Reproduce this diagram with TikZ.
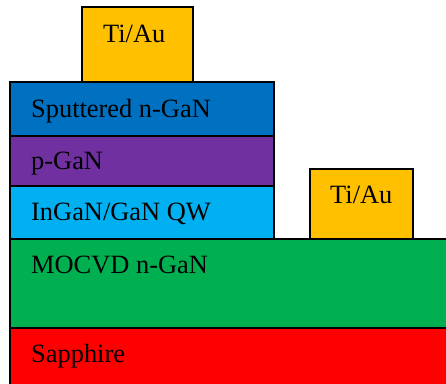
\documentclass[tikz,border=0pt]{standalone}
\usepackage{fontspec}
\setmainfont{Liberation Serif}
\definecolor{auY}{HTML}{FFC000}
\definecolor{sputB}{HTML}{0070C0}
\definecolor{pgan}{HTML}{7030A0}
\definecolor{qw}{HTML}{00B0F0}
\definecolor{mocvd}{HTML}{00B050}
\definecolor{sapph}{HTML}{FF0000}
\tikzset{
  layer/.style={draw=black, line width=1.4pt},
  lbl/.style={anchor=base west, inner sep=0pt, font=\fontsize{26.4}{30}\selectfont},
}
\begin{document}
\begin{tikzpicture}[x=1pt,y=-1pt]
\clip (0,0) rectangle (446,383);
\fill[white] (0,0) rectangle (446,383);
% layers
\filldraw[layer, fill=sapph] (10,328) rectangle (460,400);
\filldraw[layer, fill=mocvd] (10,239) rectangle (460,328);
\filldraw[layer, fill=qw] (10,186) rectangle (274,239);
\filldraw[layer, fill=pgan] (10,136) rectangle (274,186);
\filldraw[layer, fill=sputB] (10,82) rectangle (274,136);
\filldraw[layer, fill=auY] (82,7) rectangle (193,82);
\filldraw[layer, fill=auY] (310,169) rectangle (413,239);
% labels
\node[lbl] (tiautop) at (103,42.3) {Ti/Au};
\node[lbl] (sput) at (31,117.3) {Sputtered n-GaN};
\node[lbl] (pgantext) at (31,169.3) {p-GaN};
\node[lbl] (qwtext) at (31,220.7) {InGaN/GaN QW};
\node[lbl] (tiauright) at (330,203.3) {Ti/Au};
\node[lbl] (mocvdtext) at (31,273.3) {MOCVD n-GaN};
\node[lbl] (sapphtext) at (31,362.3) {Sapphire};
\end{tikzpicture}
\end{document}
